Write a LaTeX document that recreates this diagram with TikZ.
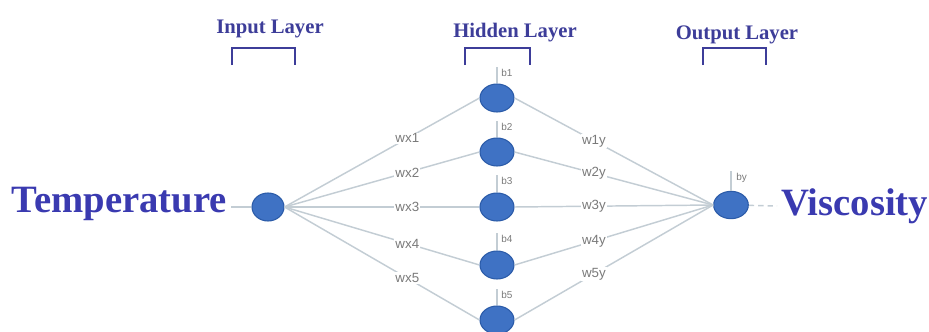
\documentclass[tikz,border=0pt]{standalone}
\usepackage{fontspec}
\usetikzlibrary{shapes.geometric}
\setmainfont{Liberation Serif}
\newfontfamily\labfont{Liberation Sans}
\definecolor{nodeblue}{HTML}{3F72C4}
\definecolor{nodeedge}{HTML}{2B5BA8}
\definecolor{titleblue}{HTML}{3D3D99}
\definecolor{bigblue}{HTML}{3A3AB0}
\definecolor{wire}{HTML}{C3CDD4}
\definecolor{labgray}{HTML}{7A7A7A}
\begin{document}
\begin{tikzpicture}[x=0.75pt,y=-0.75pt,
  neuron/.style={ellipse, fill=nodeblue, draw=nodeedge, line width=0.8pt, inner sep=0pt},
  wirestyle/.style={draw=wire, line width=1.1pt},
  wlab/.style={font=\labfont\fontsize{10}{12}\selectfont, text=labgray, fill=white, inner sep=0.8pt},
  blab/.style={font=\labfont\fontsize{7.5}{9}\selectfont, text=labgray, inner sep=0pt, anchor=west},
  layertitle/.style={font=\bfseries\fontsize{15.5}{18}\selectfont, text=titleblue, anchor=base, inner sep=0pt},
  bigtext/.style={font=\bfseries\fontsize{29}{32}\selectfont, text=bigblue, inner sep=0pt},
  bracketstyle/.style={draw=titleblue, line width=2.2pt}
]
\useasboundingbox (0,0) rectangle (929,332);
\begin{scope}
\clip (0,0) rectangle (929,332);

% titles
\node[layertitle] (tin) at (270,33) {Input Layer};
\node[layertitle] (thid) at (515,37) {Hidden Layer};
\node[layertitle] (tout) at (737,40) {Output Layer};
\draw[bracketstyle] (232,65) -- (232,48) -- (295,48) -- (295,65);
\draw[bracketstyle] (465,65) -- (465,48) -- (530,48) -- (530,65);
\draw[bracketstyle] (703,65) -- (703,48) -- (766,48) -- (766,65);

% nodes
\node[neuron, minimum width=24pt, minimum height=21pt] (x) at (268,207) {};
\foreach \i/\yy in {1/98,2/152,3/207,4/265,5/320}{
  \node[neuron, minimum width=25.5pt, minimum height=21pt] (h\i) at (497,\yy) {};
}
\node[neuron, minimum width=26pt, minimum height=20.5pt] (y) at (731,205) {};

% input to hidden
\foreach \i/\l in {1/wx1,2/wx2,3/wx3,4/wx4,5/wx5}{
  \draw[wirestyle] (x.east) -- node[wlab, pos=0.63] {\l} (h\i.west);
}
% hidden to output
\foreach \i/\l in {1/w1y,2/w2y,3/w3y,4/w4y,5/w5y}{
  \draw[wirestyle] (h\i.east) -- node[wlab, pos=0.4] {\l} (y.west);
}

% biases
\foreach \i/\yy in {1/73,2/127,3/181,4/239,5/295}{
  \coordinate (bt\i) at (497,\yy-6);
  \node[blab] (b\i) at (501,\yy) {b\i};
  \draw[wirestyle, line width=0.8pt] (bt\i) -- (h\i.north);
}
\coordinate (byt) at (731,171);
\node[blab] (by) at (736,178) {by};
\draw[wirestyle, line width=0.8pt] (byt) -- (y.north);

% input and output texts
\node[bigtext, anchor=base east] (temp) at (227,212) {Temperature};
\node[bigtext, anchor=base west] (visc) at (781,215) {Viscosity};
\coordinate (tempend) at (231,207);
\draw[wirestyle] (tempend) -- (x);
\coordinate (viscend) at (777,206);
\draw[wirestyle, dash pattern=on 4pt off 3pt] (y) -- (viscend);
\end{scope}
\end{tikzpicture}
\end{document}
